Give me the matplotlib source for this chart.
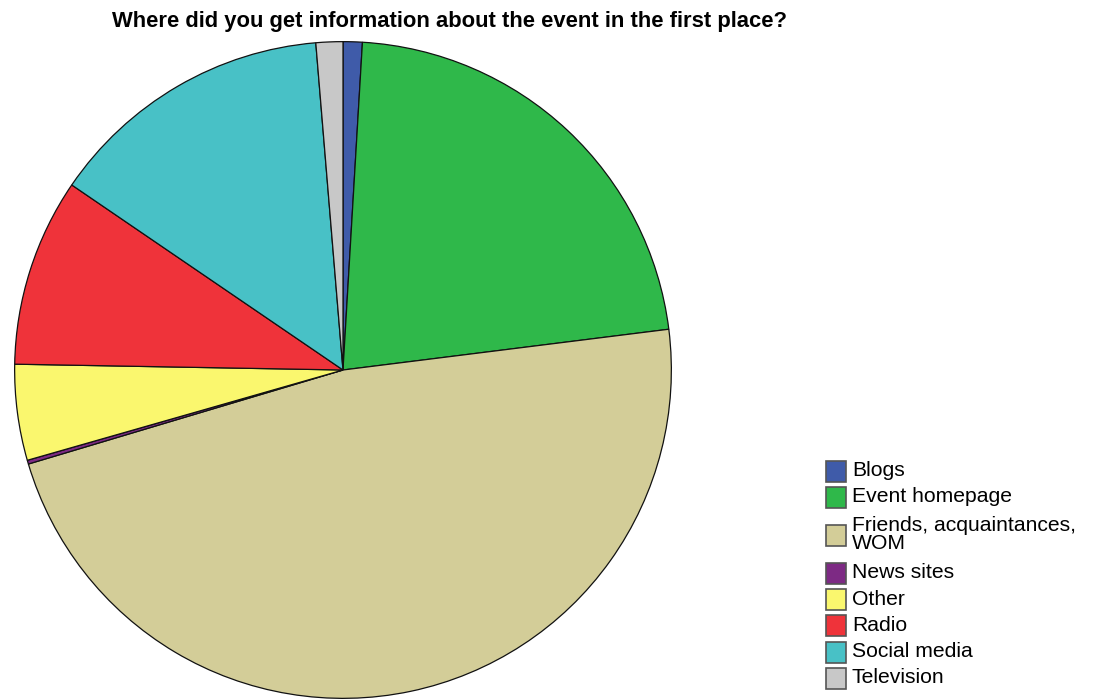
import matplotlib.pyplot as plt
from matplotlib.patches import Rectangle

# answers to the "first heard about the event" question (counts)
sources = ['Blogs', 'Event homepage', 'Friends, acquaintances,\nWOM', 'News sites',
           'Other', 'Radio', 'Social media', 'Television']
counts = [5, 117, 251, 1, 25, 49, 75, 7]
colors = ['#3F5BA9', '#2FB84A', '#D3CD98', '#7D2A84',
          '#FAF76E', '#EF333A', '#48C1C6', '#C8C8C8']

title = 'Where did you get information about the event in the first place?'

W, H = 1097, 700
fig = plt.figure(figsize=(W / 100, H / 100), dpi=100)
plt.rcParams['font.family'] = ['Liberation Sans', 'DejaVu Sans']

# pie: centre at (343, 370) px, radius 330 px
cx, cy, r = 343, 370, 330
ax = fig.add_axes([(cx - r) / W, (H - cy - r) / H, 2 * r / W, 2 * r / H])
ax.pie(counts, colors=colors, startangle=90, counterclock=False, radius=1,
       wedgeprops=dict(edgecolor='#111111', linewidth=0.9))
ax.set_xlim(-1.005, 1.005)
ax.set_ylim(-1.005, 1.005)
ax.set_aspect('equal')
ax.axis('off')

fig.text(450 / W, 1 - 21 / H, title, ha='center', va='center',
         fontsize=15.8, fontweight='bold')

# legend drawn by hand, one swatch per category
row_h, extra = 26.3, 23.4
y = 471
prev_h = None
for i, (lab, col) in enumerate(zip(sources, colors)):
    h = row_h + extra * lab.count('\n')
    if prev_h is not None:
        y += (prev_h + h) / 2
    prev_h = h
    fig.patches.append(Rectangle((826 / W, 1 - (y + 10.5) / H), 20 / W, 21 / H,
                                 transform=fig.transFigure, facecolor=col,
                                 edgecolor='#555555', linewidth=1.2))
    fig.text(852 / W, 1 - (y - 0.5) / H, lab, ha='left', va='center', fontsize=15.2,
             linespacing=0.95)

fig.savefig('out.png', dpi=100)
